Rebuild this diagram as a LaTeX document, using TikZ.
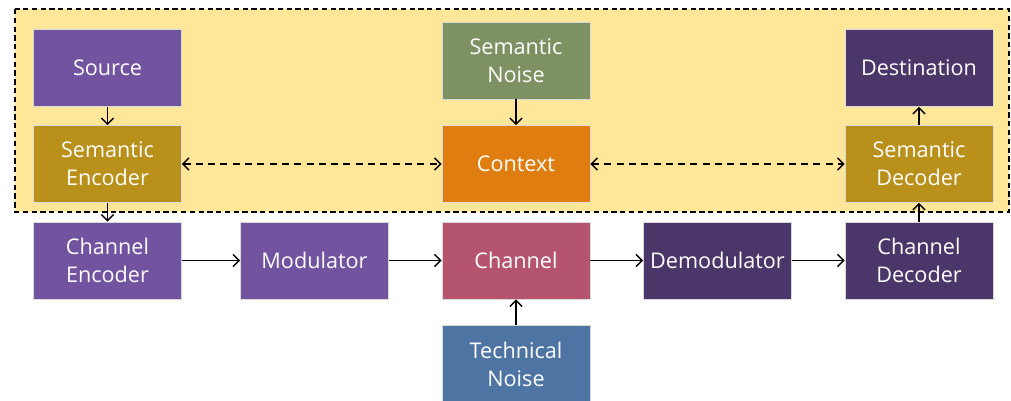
\documentclass[tikz,border=0pt]{standalone}
\usepackage{fontspec}
\setmainfont{Open Sans}
\usepackage{tikz}
\usetikzlibrary{arrows.meta}

\definecolor{srcpurple}{HTML}{7153A0}
\definecolor{dstpurple}{HTML}{4B366A}
\definecolor{semgold}{HTML}{B8901A}
\definecolor{semgreen}{HTML}{7E9162}
\definecolor{ctxorange}{HTML}{E07D10}
\definecolor{chanrose}{HTML}{B5546F}
\definecolor{techblue}{HTML}{4E74A3}
\definecolor{zonefill}{HTML}{FFE699}

\tikzset{
  block/.style={rectangle, draw=white!70!gray, line width=0.4pt, text=white,
    minimum width=2.96cm, minimum height=1.54cm, align=center,
    font=\fontsize{12.3}{16}\selectfont},
  tip/.style={Straight Barb[length=3.5pt,width=7pt]},
  link/.style={-{Straight Barb[length=3.5pt,width=7pt]}, line width=0.8pt},
  twoway/.style={{Straight Barb[length=3.5pt,width=7pt]}-{Straight Barb[length=3.5pt,width=7pt]},
    line width=0.8pt, dash pattern=on 4pt off 3pt},
}

\begin{document}
\begin{tikzpicture}[x=0.02cm, y=-0.02cm]
\useasboundingbox (0,0) rectangle (1011,400);
\draw[dash pattern=on 3pt off 2pt, line width=0.7pt, fill=zonefill] (15,9) rectangle (1009,212);

\node[block, fill=srcpurple] (src) at (107.5,68) {Source};
\node[block, fill=semgold] (senc) at (107.5,164) {Semantic\\Encoder};
\node[block, fill=semgreen] (snoise) at (516,60.5) {Semantic\\Noise};
\node[block, fill=ctxorange] (ctx) at (516,164) {Context};
\node[block, fill=dstpurple] (dst) at (919,68) {Destination};
\node[block, fill=semgold] (sdec) at (919,164) {Semantic\\Decoder};

\node[block, fill=srcpurple] (cenc) at (107.5,260.5) {Channel\\Encoder};
\node[block, fill=srcpurple] (mod) at (314.5,260.5) {Modulator};
\node[block, fill=chanrose] (chan) at (516,260.5) {Channel};
\node[block, fill=dstpurple] (demod) at (717.5,260.5) {Demodulator};
\node[block, fill=dstpurple] (cdec) at (919,260.5) {Channel\\Decoder};
\node[block, fill=techblue] (tnoise) at (516,364) {Technical\\Noise};

\draw[link] (src) -- (senc);
\draw[link] (senc) -- (cenc);
\draw[link] (snoise) -- (ctx);
\draw[link] (sdec) -- (dst);
\draw[link] (cdec) -- (sdec);
\draw[twoway] (senc) -- (ctx);
\draw[twoway] (ctx) -- (sdec);

\draw[link] (cenc) -- (mod);
\draw[link] (mod) -- (chan);
\draw[link] (chan) -- (demod);
\draw[link] (demod) -- (cdec);
\draw[link] (tnoise) -- (chan);
\end{tikzpicture}
\end{document}
